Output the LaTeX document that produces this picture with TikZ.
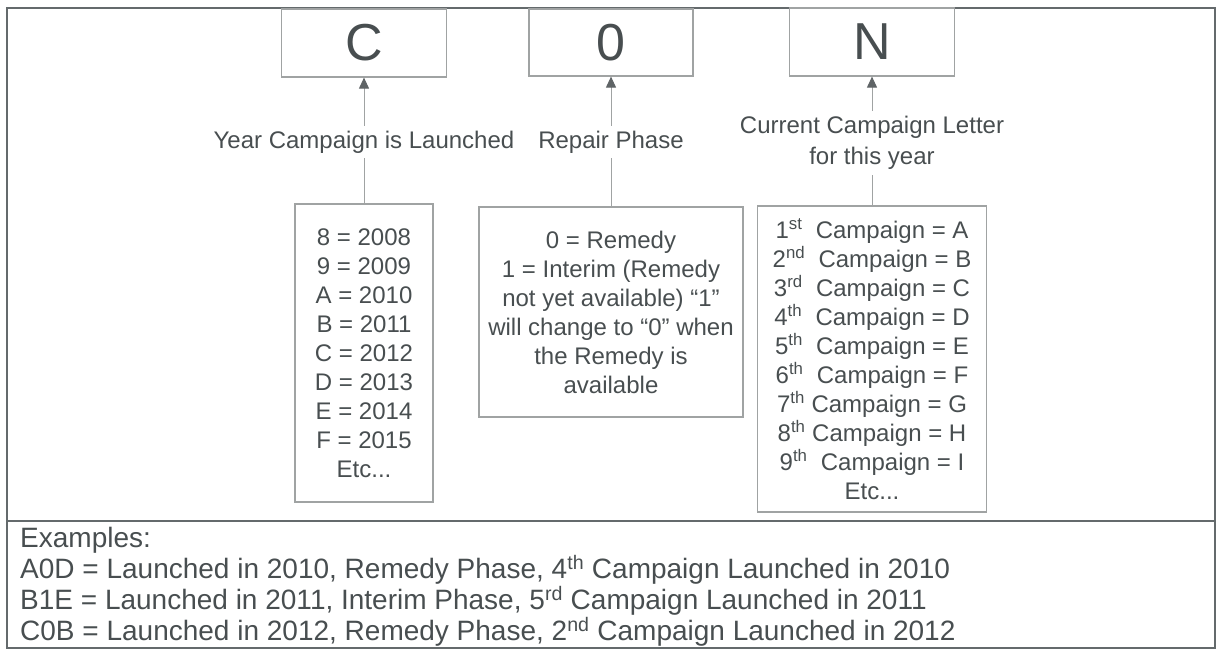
\documentclass[tikz,border=0pt]{standalone}
\usepackage{fontspec}
\setmainfont{Liberation Sans}
\usetikzlibrary{arrows.meta}
\definecolor{txt}{RGB}{72,78,80}
\definecolor{boxln}{RGB}{160,163,163}
\definecolor{frm}{RGB}{100,106,108}
\definecolor{arrc}{RGB}{95,100,102}
\begin{document}
\begin{tikzpicture}[x=1pt,y=-1pt,
 every node/.style={text=txt,font=\fontsize{24}{29}\selectfont},
 letterbox/.style={draw=boxln,line width=1.2pt,minimum width=165pt,minimum height=68pt,inner sep=0pt,font=\fontsize{52}{52}\selectfont},
 infobox/.style={draw=boxln,line width=1.2pt,inner sep=0pt,align=center},
 lbl/.style={inner sep=5pt,align=center},
 uparrow/.style={draw=boxln,line width=1pt,-{Triangle[length=11pt,width=10pt,fill=arrc,color=arrc]}},
 link/.style={draw=boxln,line width=1pt}]
\useasboundingbox (0,0) rectangle (1217,650);
\draw[frm,line width=2.5pt] (7,8) rectangle (1215,648);
\draw[frm,line width=2.5pt] (7,521) -- (1215,521);

\node[letterbox] (bC) at (364,43) {C};
\node[letterbox,minimum width=164pt,minimum height=67pt] (b0) at (611,42.5) {0};
\node[letterbox] (bN) at (872,42) {N};

\node[lbl] (lC) at (364,142) {Year Campaign is Launched};
\node[lbl] (l0) at (611,142) {Repair Phase};
\node[lbl,font=\fontsize{24}{31}\selectfont] (lN) at (872,143) {Current Campaign Letter\\for this year};

\node[infobox,minimum width=138pt,minimum height=298pt] (yb) at (364,353)
 {8 = 2008\\9 = 2009\\A = 2010\\B = 2011\\C = 2012\\D = 2013\\E = 2014\\F = 2015\\Etc...};
\node[infobox,minimum width=264pt,minimum height=210pt] (rb) at (611,312)
 {0 = Remedy\\1 = Interim (Remedy\\not yet available) “1”\\will change to “0” when\\the Remedy is\\available};
\node[infobox,minimum width=229pt,minimum height=306pt] (cb) at (872,359)
 {1\textsuperscript{st}\ \ Campaign = A\\
  2\textsuperscript{nd}\ \ Campaign = B\\
  3\textsuperscript{rd}\ \ Campaign = C\\
  4\textsuperscript{th}\ \ Campaign = D\\
  5\textsuperscript{th}\ \ Campaign = E\\
  6\textsuperscript{th}\ \ Campaign = F\\
  7\textsuperscript{th} Campaign = G\\
  8\textsuperscript{th} Campaign = H\\
  9\textsuperscript{th}\ \ Campaign = I\\
  Etc...};

\draw[uparrow] (lC) -- (bC);
\draw[uparrow] (l0) -- (b0);
\draw[uparrow] (lN) -- (bN);
\draw[link] (yb) -- (lC);
\draw[link] (rb) -- (l0);
\draw[link] (cb) -- (lN);

\node[anchor=west,align=left,inner sep=0pt,font=\fontsize{28}{31}\selectfont] (ex) at (20,587)
 {Examples:\\
  A0D = Launched in 2010, Remedy Phase, 4\textsuperscript{th} Campaign Launched in 2010\\
  B1E = Launched in 2011, Interim Phase, 5\textsuperscript{rd} Campaign Launched in 2011\\
  C0B = Launched in 2012, Remedy Phase, 2\textsuperscript{nd} Campaign Launched in 2012};
\end{tikzpicture}
\end{document}
